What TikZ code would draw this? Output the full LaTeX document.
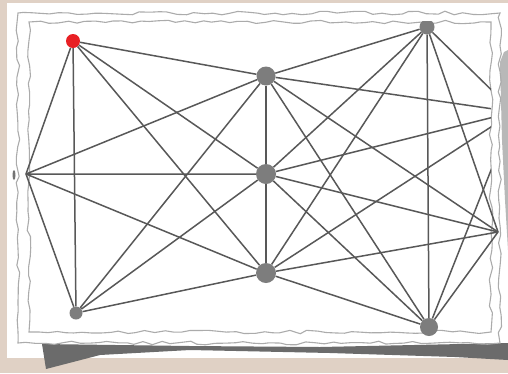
\documentclass[tikz,border=0pt]{standalone}
\usepackage{tikz}
\usetikzlibrary{decorations.pathmorphing}
\definecolor{paperbg}{RGB}{224,209,197}
\definecolor{linkgray}{RGB}{88,88,88}
\definecolor{dotgray}{RGB}{125,125,125}
\definecolor{dotred}{RGB}{232,32,36}
\tikzset{
  vertex/.style={circle,fill=dotgray,inner sep=0pt,minimum size=#1},
  vertex/.default=19pt,
  link/.style={draw=linkgray,line width=1.5pt},
  tear/.style={draw=black!33,line width=1.1pt,decorate,
    decoration={random steps,segment length=9pt,amplitude=1.8pt}},
}

\begin{document}
\begin{tikzpicture}[x=1pt,y=-1pt]
    \useasboundingbox (0,0) rectangle (508,373);
    % 背景与纸张
    \fill[paperbg] (0,0) rectangle (508,373);
    \fill[white] (7,3) rectangle (508,358);
    % 阴影
    \fill[black!58] (42,344) -- (190,346) -- (320,347) -- (508,343) -- (508,360)
      -- (455,357) -- (330,353) -- (190,350) -- (100,355) -- (46,369) -- cycle;
    \fill[black!28] (500,62) -- (504,52) -- (508,50) -- (508,250) -- (505,200)
      -- (502,140) -- cycle;
    % 撕边
    \pgfmathsetseed{17}
    \draw[tear] (18,13) rectangle (500,343);
    \draw[tear] (29,22) rectangle (491,332);
    \fill[black!55] (14,175) ellipse [x radius=1.5pt,y radius=5pt];
    % 节点
    \node[vertex=14pt,fill=dotred] (A) at (73,41) {};
    \coordinate (L) at (26,174);
    \node[vertex=13pt] (C) at (76,313) {};
    \node[vertex] (D) at (266,76) {};
    \node[vertex=20pt] (E) at (266,174) {};
    \node[vertex=20pt] (F) at (266,273) {};
    \begin{scope}
      \clip (0,21) rectangle (508,373);
      \node[vertex=15pt] (G) at (427,27) {};
    \end{scope}
    \node[vertex=18pt] (H) at (429,327) {};
    \coordinate (R1) at (514,112);
    \coordinate (R2) at (498,232);
    % 左侧连线
    \draw[link] (A) -- (L) (A) -- (C) (L) -- (C);
    \draw[link] (A) -- (D) (A) -- (E) (A) -- (F);
    \draw[link] (L) -- (D) (L) -- (E) (L) -- (F);
    \draw[link] (C) -- (D) (C) -- (E) (C) -- (F);
    % 中间竖线
    \draw[link] (D) -- (E) (E) -- (F);
    % 右侧连线
    \begin{scope}
      \clip (22,21) -- (491,21) -- (491,190) -- (500,190) -- (500,335) -- (22,335) -- cycle;
      \draw[link] (D) -- (G) (D) -- (R1) (D) -- (R2) (D) -- (H);
      \draw[link] (E) -- (G) (E) -- (R1) (E) -- (R2) (E) -- (H);
      \draw[link] (F) -- (G) (F) -- (R1) (F) -- (R2) (F) -- (H);
      \draw[link] (G) -- (H) (G) -- (R1) (G) -- (R2);
      \draw[link] (H) -- (R1) (H) -- (R2);
    \end{scope}
\end{tikzpicture}
\end{document}
